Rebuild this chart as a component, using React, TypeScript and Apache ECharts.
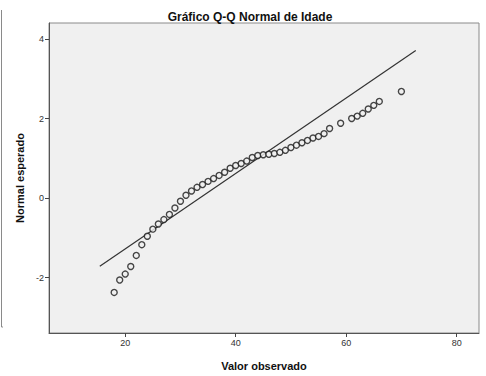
import React, { useEffect, useRef } from "react";
import * as echarts from "echarts";

const ages = [18, 19, 20, 21, 22, 23, 24, 25, 26, 27, 28, 29, 30, 31, 32, 33, 34, 35, 36, 37, 38, 39, 40, 41, 42, 43, 44, 45, 46, 47, 48, 49, 50, 51, 52, 53, 54, 55, 56, 57, 59, 61, 62, 63, 64, 65, 66, 70];
const expectedNormal = [-2.37, -2.06, -1.91, -1.72, -1.44, -1.17, -0.96, -0.78, -0.65, -0.54, -0.41, -0.25, -0.08, 0.07, 0.18, 0.27, 0.34, 0.42, 0.49, 0.57, 0.65, 0.75, 0.82, 0.87, 0.93, 1.02, 1.07, 1.09, 1.1, 1.12, 1.15, 1.2, 1.27, 1.33, 1.39, 1.45, 1.51, 1.55, 1.62, 1.75, 1.88, 2.0, 2.06, 2.13, 2.24, 2.33, 2.43, 2.68];
const refLineX = [15.4, 72.6];
const refLineY = [-1.71, 3.71];
const xTicks = [20, 40, 60, 80];
const yTicks = [-2, 0, 2, 4];

const FONT = "Liberation Sans, Arial, sans-serif";

export default function App() {
  const ref = useRef<HTMLDivElement>(null);
  useEffect(() => {
    if (!ref.current) return;
    const chart = echarts.init(ref.current, null, { renderer: "svg" });
    chart.setOption({
      animation: false,
      backgroundColor: "#ffffff",
      textStyle: { fontFamily: FONT },
      title: {
        text: "Gráfico Q-Q Normal de Idade",
        left: 245,
        textAlign: "center",
        top: 6,
        textStyle: { fontFamily: FONT, fontSize: 12, fontWeight: "bold", color: "#111" },
      },
      grid: {
        left: 49,
        right: 7,
        top: 23,
        bottom: 41,
        show: true,
        backgroundColor: "#f0f0f0",
        borderColor: "#8a8a8a",
        borderWidth: 1,
      },
      xAxis: {
        type: "value",
        min: 6.2,
        max: 84.05,
        name: "Valor observado",
        nameLocation: "middle",
        nameGap: 27,
        nameTextStyle: { fontFamily: FONT, fontSize: 11, fontWeight: "bold", color: "#111" },
        axisLine: { show: true, onZero: false, lineStyle: { color: "#555", width: 1 } },
        axisTick: { show: true, length: 4, lineStyle: { color: "#444" }, customValues: xTicks },
        axisLabel: { fontFamily: FONT, fontSize: 9, color: "#333", margin: 5, customValues: xTicks },
        splitLine: { show: false },
      },
      yAxis: {
        type: "value",
        min: -3.39,
        max: 4.4,
        name: "Normal esperado",
        nameLocation: "middle",
        nameGap: 24,
        nameTextStyle: { fontFamily: FONT, fontSize: 11, fontWeight: "bold", color: "#111" },
        axisLine: { show: true, onZero: false, lineStyle: { color: "#555", width: 1 } },
        axisTick: { show: true, length: 4, lineStyle: { color: "#444" }, customValues: yTicks },
        axisLabel: { fontFamily: FONT, fontSize: 9, color: "#333", margin: 5, customValues: yTicks },
        splitLine: { show: false },
      },
      graphic: [
        {
          type: "polyline",
          shape: { points: [[1.5, 10], [1.5, 327], [3, 327]] },
          style: { stroke: "#8a8a8a", lineWidth: 1, fill: "none" },
        },
      ],
      series: [
        {
          type: "line",
          data: refLineX.map((x, i) => [x, refLineY[i]]),
          symbol: "none",
          lineStyle: { color: "#333", width: 1.2 },
          silent: true,
          z: 2,
        },
        {
          type: "scatter",
          data: ages.map((a, i) => [a, expectedNormal[i]]),
          symbol: "circle",
          symbolSize: 6,
          itemStyle: { color: "#f0f0f0", borderColor: "#1a1a1a", borderWidth: 1.4 },
          z: 3,
        },
      ],
    });
    return () => chart.dispose();
  }, []);
  return (
    <div
      ref={ref}
      style={{ position: "absolute", left: 0, top: 0, width: 486, height: 376 }}
    />
  );
}
